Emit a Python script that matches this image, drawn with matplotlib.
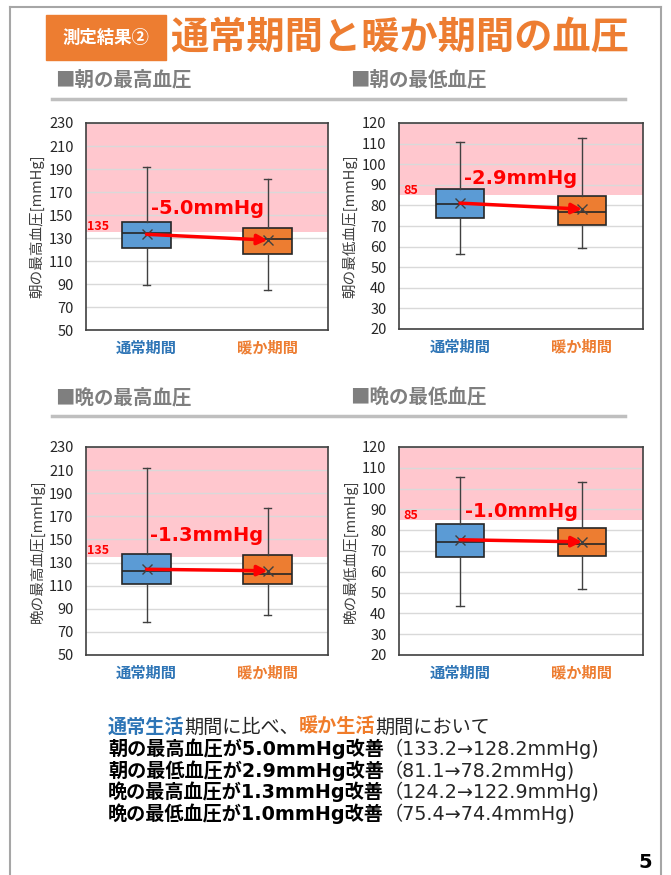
import matplotlib
matplotlib.use("Agg")
import matplotlib.pyplot as plt
from matplotlib.patches import Rectangle
from matplotlib.lines import Line2D

plt.rcParams["font.family"] = ["Noto Sans CJK JP", "DejaVu Sans"]

categories = ["通常期間", "暖か期間"]
cat_colors = ["#2E75B6", "#ED7D31"]

# box statistics: [通常期間, 暖か期間]
am_sys_lo = [89.0, 84.7]
am_sys_q1 = [120.9, 116.0]
am_sys_med = [134.5, 128.7]
am_sys_q3 = [144.1, 139.1]
am_sys_hi = [191.8, 181.4]
am_sys_mean = [133.2, 128.2]

am_dia_lo = [56.5, 59.2]
am_dia_q1 = [73.7, 70.3]
am_dia_med = [80.5, 76.8]
am_dia_q3 = [88.1, 84.4]
am_dia_hi = [110.6, 112.9]
am_dia_mean = [81.1, 78.2]

pm_sys_lo = [78.3, 84.4]
pm_sys_q1 = [111.2, 111.2]
pm_sys_med = [123.1, 120.2]
pm_sys_q3 = [137.5, 136.4]
pm_sys_hi = [211.5, 176.8]
pm_sys_mean = [124.2, 122.9]

pm_dia_lo = [43.4, 51.7]
pm_dia_q1 = [67.2, 67.7]
pm_dia_med = [74.2, 73.6]
pm_dia_q3 = [83.2, 81.1]
pm_dia_hi = [105.6, 103.0]
pm_dia_mean = [75.4, 74.4]

sys_limit = 135
dia_limit = 85

W, H = 671, 875
fig = plt.figure(figsize=(W / 100, H / 100), dpi=100)
fig.patch.set_facecolor("white")


def fx(x):
    return x / W


def fy(y):
    return 1 - y / H


def make_stats(lo, q1, med, q3, hi, mean):
    return [dict(whislo=lo[i], q1=q1[i], med=med[i], q3=q3[i], whishi=hi[i],
                 mean=mean[i], fliers=[], label=categories[i]) for i in range(2)]


def draw_chart(box, stats, ylim, step, limit, ylabel, ann_y, lim_y):
    l, t, r, b = box
    ax = fig.add_axes([fx(l), fy(b), fx(r - l), (b - t) / H])
    ax.axhspan(limit, ylim[1], color="#FFC7CE", zorder=0, lw=0)
    ax.set_axisbelow(True)
    ax.yaxis.grid(True, color="#D9D9D9", lw=1)
    bp = ax.bxp(stats, positions=[1, 2], widths=0.4, patch_artist=True,
                showmeans=True, showfliers=False, capwidths=0.06,
                boxprops=dict(edgecolor="#262626", lw=1.2),
                medianprops=dict(color="#262626", lw=1.2),
                whiskerprops=dict(color="#404040", lw=1),
                capprops=dict(color="#404040", lw=1),
                meanprops=dict(marker="x", markeredgecolor="#404040",
                               markersize=7, markeredgewidth=1))
    for patch, c in zip(bp["boxes"], ["#5B9BD5", "#ED7D31"]):
        patch.set_facecolor(c)
    m = [s["mean"] for s in stats]
    ax.annotate("", xy=(2, m[1]), xytext=(1, m[0]),
                arrowprops=dict(arrowstyle="-|>", color="#FF0000", lw=2.5,
                                mutation_scale=15, shrinkA=0, shrinkB=0),
                zorder=5)
    diff = m[0] - m[1]
    ax.text(1.5, ann_y, f"-{diff:.1f}mmHg", ha="center", va="center",
            color="#FF0000", fontsize=14, fontweight="bold",
            family=["DejaVu Sans"], zorder=6)
    ax.text(0.6, lim_y, str(limit), ha="center", va="center",
            color="#FF0000", fontsize=9, fontweight="bold", zorder=6)
    ax.set_xlim(0.5, 2.5)
    ax.set_ylim(*ylim)
    ax.set_yticks(range(ylim[0], ylim[1] + 1, step))
    ax.set_xticks([1, 2])
    ax.set_xticklabels(categories, fontsize=11, fontweight="bold")
    for lab, c in zip(ax.get_xticklabels(), cat_colors):
        lab.set_color(c)
    ax.tick_params(axis="both", length=0)
    ax.tick_params(axis="y", pad=9, labelsize=10.5, labelcolor="#262626")
    ax.tick_params(axis="x", pad=7)
    ax.set_ylabel(ylabel, fontsize=10.5, color="#404040", labelpad=3)
    for sp in ax.spines.values():
        sp.set_color("#404040")
        sp.set_linewidth(1.2)
    return ax


draw_chart((86, 123, 328, 330),
           make_stats(am_sys_lo, am_sys_q1, am_sys_med, am_sys_q3, am_sys_hi, am_sys_mean),
           (50, 230), 20, sys_limit, "朝の最高血圧[mmHg]", 156, 140)
draw_chart((399, 123, 643, 329),
           make_stats(am_dia_lo, am_dia_q1, am_dia_med, am_dia_q3, am_dia_hi, am_dia_mean),
           (20, 120), 10, dia_limit, "朝の最低血圧[mmHg]", 93, 87)
draw_chart((86, 447, 328, 655),
           make_stats(pm_sys_lo, pm_sys_q1, pm_sys_med, pm_sys_q3, pm_sys_hi, pm_sys_mean),
           (50, 230), 20, sys_limit, "晩の最高血圧[mmHg]", 153, 140)
draw_chart((399, 447, 643, 655),
           make_stats(pm_dia_lo, pm_dia_q1, pm_dia_med, pm_dia_q3, pm_dia_hi, pm_dia_mean),
           (20, 120), 10, dia_limit, "晩の最低血圧[mmHg]", 89, 87)

# page frame
gray = "#A6A6A6"
fig.add_artist(Line2D([fx(10), fx(661)], [fy(7), fy(7)], color=gray, lw=1.5))
fig.add_artist(Line2D([fx(10), fx(10)], [fy(7), 0], color=gray, lw=1.5))
fig.add_artist(Line2D([fx(661), fx(661)], [fy(7), 0], color=gray, lw=1.5))

# title
fig.add_artist(Rectangle((fx(46), fy(60)), fx(120), 45 / H, color="#ED7D31"))
fig.text(fx(106), fy(38), "測定結果②", color="white", fontsize=12.5,
         fontweight="bold", ha="center", va="center")
fig.text(fx(170), fy(37), "通常期間と暖か期間の血圧", color="#ED7D31",
         fontsize=27.5, fontweight="bold", ha="left", va="center")

# section headings
for x, y, s in [(55, 80, "■朝の最高血圧"), (350, 80, "■朝の最低血圧"),
                (55, 398, "■晩の最高血圧"), (350, 398, "■晩の最低血圧")]:
    fig.text(fx(x), fy(y), s, color="#7F7F7F", fontsize=14,
             fontweight="bold", ha="left", va="center")
for y in [99, 416]:
    fig.add_artist(Line2D([fx(52), fx(625)], [fy(y), fy(y)], color="#BFBFBF", lw=2.5))

# summary text
renderer = fig.canvas.get_renderer()
fam = ["DejaVu Sans", "Noto Sans CJK JP"]


def put_runs(x, y, runs):
    for s, color, weight in runs:
        t = fig.text(fx(x), fy(y), s, color=color, fontweight=weight,
                     fontsize=13.8, family=fam, ha="left", va="center")
        x += t.get_window_extent(renderer=renderer).width


put_runs(108, 727, [("通常生活", "#2E75B6", "bold"), ("期間に比べ、", "#262626", "normal"),
                    ("暖か生活", "#F07C2A", "bold"), ("期間において", "#262626", "normal")])
rows = [("朝の最高血圧", am_sys_mean), ("朝の最低血圧", am_dia_mean),
        ("晩の最高血圧", pm_sys_mean), ("晩の最低血圧", pm_dia_mean)]
for i, (name, m) in enumerate(rows):
    put_runs(108, 749 + 21.5 * i,
             [(f"{name}が{m[0] - m[1]:.1f}mmHg改善", "black", "bold"),
              (f"（{m[0]:.1f}→{m[1]:.1f}mmHg)", "#262626", "normal")])

fig.text(fx(645), fy(862), "5", fontsize=14, color="black", ha="center",
         va="center", fontweight="bold", family=["DejaVu Sans"])

fig.savefig("out.png", dpi=100)
